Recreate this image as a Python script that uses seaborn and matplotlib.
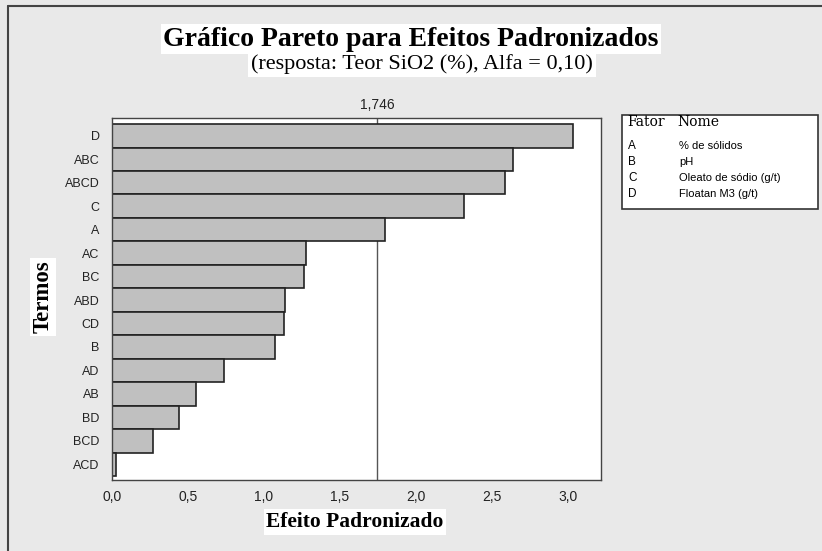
import matplotlib
matplotlib.use("Agg")
import matplotlib.pyplot as plt
from matplotlib.lines import Line2D
from matplotlib.patches import Rectangle
from matplotlib.ticker import FuncFormatter, MultipleLocator
from matplotlib.transforms import blended_transform_factory
import seaborn as sns
import pandas as pd

# Standardized effects (Pareto order)
terms = ["D", "ABC", "ABCD", "C", "A", "AC", "BC", "ABD", "CD", "B",
         "AD", "AB", "BD", "BCD", "ACD"]
effects = [3.035, 2.642, 2.585, 2.315, 1.796, 1.278, 1.267, 1.142, 1.132,
           1.073, 0.738, 0.556, 0.438, 0.268, 0.028]
threshold = 1.746

factor_codes = ["A", "B", "C", "D"]
factor_names = ["% de sólidos", "pH", "Oleato de sódio (g/t)", "Floatan M3 (g/t)"]

title = "Gráfico Pareto para Efeitos Padronizados"
subtitle = "(resposta: Teor SiO2 (%), Alfa = 0,10)"
xlabel = "Efeito Padronizado"
ylabel = "Termos"

df = pd.DataFrame({"Termo": terms, "Efeito": effects})

sns.set_theme(style="white")
plt.rcParams["font.family"] = ["Liberation Sans", "DejaVu Sans"]

W, H = 822, 551
fig = plt.figure(figsize=(W / 100, H / 100), dpi=100)
bg = "#e9e9e9"
fig.patch.set_facecolor(bg)

def fx(px):
    return px / W

def fy(py):
    return 1 - py / H

ax = fig.add_axes([fx(112), fy(480), fx(601) - fx(112), fy(118) - fy(480)])
ax.set_facecolor("white")

sns.barplot(data=df, x="Efeito", y="Termo", orient="h", order=terms,
            color="#c0c0c0", edgecolor="#222222", linewidth=1.2,
            width=1.0, saturation=1, ax=ax)

ax.set_xlim(0, 3.22)
ax.set_ylim(14.5 + 0.17, -0.5 - 0.26)
ax.axvline(threshold, color="#555555", lw=1.0, zorder=0.5)

# critical value label above the plot
trans = blended_transform_factory(ax.transData, fig.transFigure)
fig.text(threshold, fy(105), f"{threshold:.3f}".replace(".", ","),
         ha="center", va="center", fontsize=10, color="#222222",
         transform=trans)

ax.xaxis.set_major_locator(MultipleLocator(0.5))
ax.xaxis.set_major_formatter(FuncFormatter(lambda v, p: f"{v:.1f}".replace(".", ",")))
ax.tick_params(axis="both", direction="out", length=4, width=1, color="#333333",
               labelsize=9, labelcolor="#222222", pad=5)
ax.tick_params(axis="x", labelsize=10, pad=3)
for s in ax.spines.values():
    s.set_visible(True)
    s.set_color("#444444")
    s.set_linewidth(1.0)
ax.set_xlabel("")
ax.set_ylabel("")

serif = ["Liberation Serif", "DejaVu Serif"]
box = dict(facecolor="white", edgecolor="none", pad=2)

fig.text(fx(411), fy(39), title, ha="center", va="center", family=serif,
         fontsize=20, fontweight="bold", color="black", bbox=box)
fig.text(fx(422), fy(64.5), subtitle, ha="center", va="center", family=serif,
         fontsize=16, color="black", bbox=box)
fig.text(fx(355), fy(522), xlabel, ha="center", va="center", family=serif,
         fontsize=15.5, fontweight="bold", color="black", bbox=box)
fig.text(fx(43), fy(297), ylabel, ha="center", va="center", family=serif,
         fontsize=16.5, fontweight="bold", color="black", rotation=90, bbox=box)

# factor key
fig.patches.append(Rectangle((fx(622), fy(209)), fx(818) - fx(622), fy(115) - fy(209),
                             transform=fig.transFigure, facecolor="white",
                             edgecolor="#333333", lw=1.2))
header_font = ["DejaVu Serif"]
fig.text(fx(627), fy(122), "Fator", ha="left", va="center", family=header_font,
         fontsize=10, color="black")
fig.text(fx(677), fy(122), "Nome", ha="left", va="center", family=header_font,
         fontsize=10, color="black")
row_y = [146, 162, 178, 194]
for code, name, yy in zip(factor_codes, factor_names, row_y):
    fig.text(fx(628), fy(yy), code, ha="left", va="center", fontsize=8.5,
             color="black")
    fig.text(fx(679), fy(yy), name, ha="left", va="center", fontsize=8,
             color="black")

# outer frame (top and left edges)
fig.lines.append(Line2D([fx(8), fx(8)], [0, fy(6)], transform=fig.transFigure,
                        color="#444444", lw=1.5))
fig.lines.append(Line2D([fx(8), 1], [fy(6), fy(6)], transform=fig.transFigure,
                        color="#444444", lw=1.5))

fig.savefig("out.png", dpi=100, facecolor=bg)
